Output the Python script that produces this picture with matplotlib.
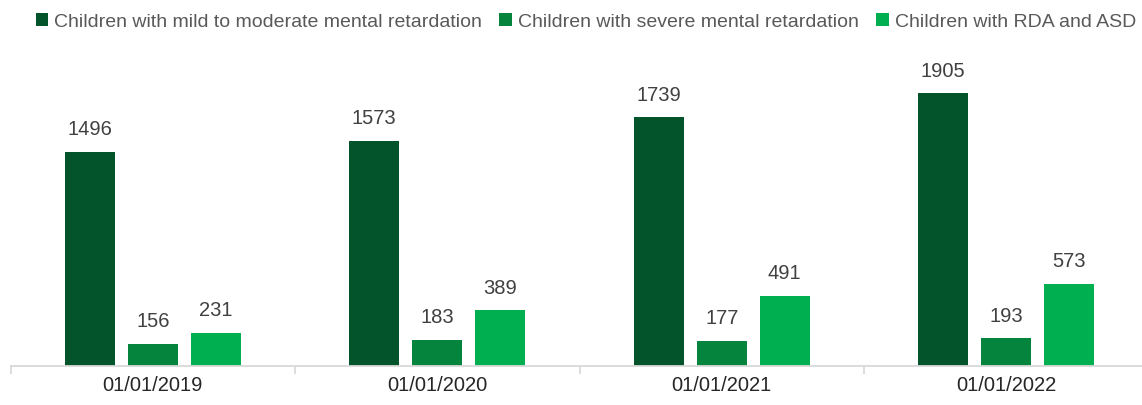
import matplotlib.pyplot as plt
import numpy as np

# datos del gráfico
fechas = ['01/01/2019', '01/01/2020', '01/01/2021', '01/01/2022']
series = ['Children with mild to moderate mental retardation',
          'Children with severe mental retardation',
          'Children with RDA and ASD']
leve_moderado = [1496, 1573, 1739, 1905]
severo = [156, 183, 177, 193]
rda_tea = [231, 389, 491, 573]
colores = ['#03542A', '#05843E', '#00B050']

plt.rcParams['font.family'] = ['Liberation Sans', 'DejaVu Sans']

fig = plt.figure(figsize=(11.42, 4.05), dpi=100)
ax = fig.add_axes([10.5 / 1142, 39 / 405, 1138 / 1142, 315 / 405])

x = np.arange(len(fechas))
ancho = 0.176
paso = 0.2215
valores = [leve_moderado, severo, rda_tea]
for i, (nombre, vals, c) in enumerate(zip(series, valores, colores)):
    barras = ax.bar(x + (i - 1) * paso, vals, ancho, color=c, label=nombre)
    ax.bar_label(barras, padding=9, fontsize=14.5, color='#404040')

ax.set_xlim(-0.5, len(fechas) - 0.5)
ax.set_ylim(0, 2200)
ax.set_yticks([])
for lado in ['top', 'right', 'left']:
    ax.spines[lado].set_visible(False)
ax.spines['bottom'].set_color('#D9D9D9')
ax.spines['bottom'].set_linewidth(1.3)

ax.set_xticks(x)
ax.set_xticklabels(fechas, fontsize=14.5, color='#262626')
ax.tick_params(axis='x', which='major', length=0, pad=7)
ax.set_xticks(np.arange(len(fechas) + 1) - 0.5, minor=True)
ax.tick_params(axis='x', which='minor', length=6, color='#D9D9D9', width=1.3)

fig.legend(loc='upper center', bbox_to_anchor=(0.513, 1.01), ncol=3, frameon=False,
           fontsize=14.0, labelcolor='#595959', handlelength=0.65, handleheight=0.65,
           handletextpad=0.3, columnspacing=0.9)

plt.savefig('out.png', dpi=100)
